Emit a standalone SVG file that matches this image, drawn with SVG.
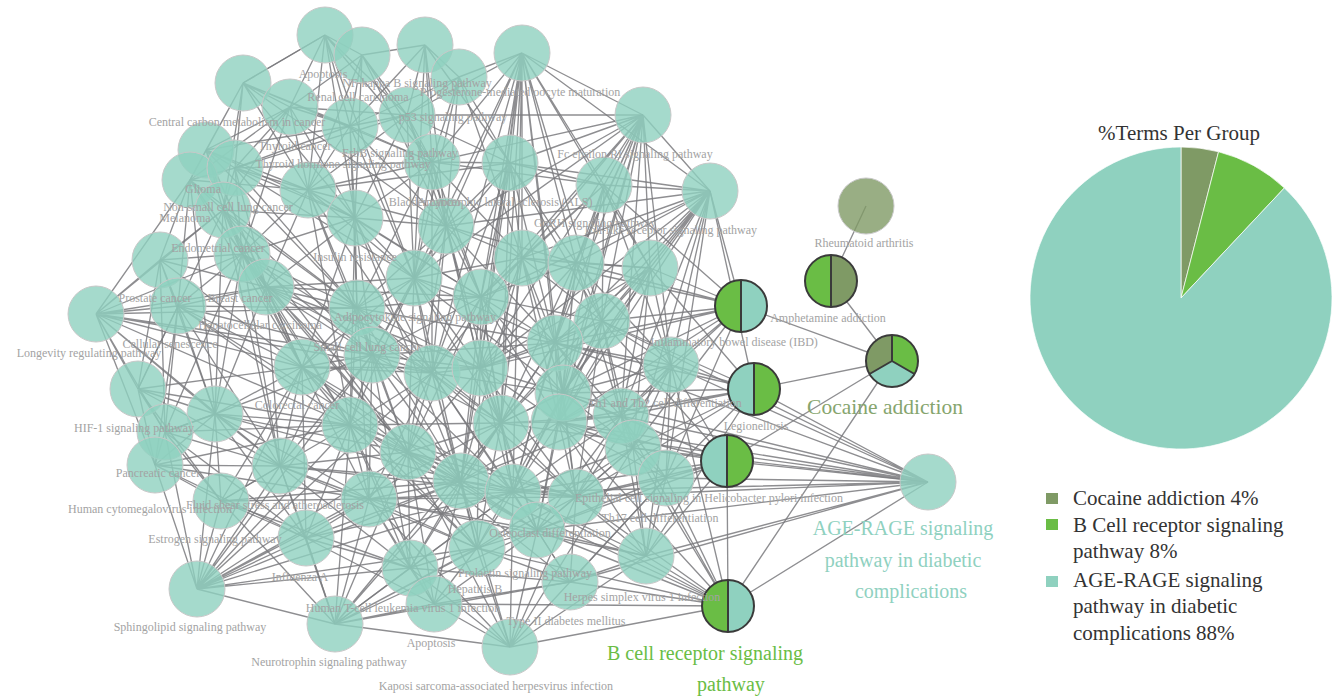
<svg xmlns="http://www.w3.org/2000/svg" width="1338" height="699" viewBox="0 0 1338 699">
<style>
.e{fill:none;stroke:#7a7a7e;stroke-width:1.35;stroke-opacity:0.85}
.n{fill:#8fd1bf;fill-opacity:0.8;stroke:#c8c8c8;stroke-width:1}
.ring{fill:none;stroke:#3a3a3a;stroke-width:2}
.div{stroke:#3a3a3a;stroke-width:2;fill:none}
.lb{font-family:'Liberation Serif',serif;font-size:12px;fill:#a3a3a3;text-anchor:middle}
.gl{font-family:'Liberation Serif',serif;font-size:20px;text-anchor:middle}
.lg{font-family:'Liberation Serif',serif;font-size:21px;fill:#333}
</style>
<rect width="1338" height="699" fill="#ffffff"/>
<g id="connectors">
<path class="e" d="M325 35L290 107M325 35L350 126M325 35L362 55M325 35L407 115M325 35L308 190M325 35L355 218M325 35L243 83M325 35L432 162M325 35L414 278"/>
<path class="e" d="M362 55L350 126M362 55L407 115M362 55L432 162M362 55L290 107M362 55L446 226M362 55L308 190M362 55L425 45M362 55L355 218"/>
<path class="e" d="M425 45L407 115M425 45L459 77M425 45L432 162M425 45L446 226M425 45L510 163M425 45L350 126M425 45L414 278"/>
<path class="e" d="M459 77L407 115M459 77L432 162M459 77L510 163M459 77L446 226M459 77L522 53M459 77L414 278M459 77L522 258M459 77L350 126"/>
<path class="e" d="M522 53L510 163M522 53L604 185M522 53L446 226M522 53L414 278M522 53L522 258M522 53L576 263M522 53L481 297M522 53L602 321M522 53L432 373M522 53L480 368M522 53L555 343M522 53L501 423M522 53L563 393M522 53L461 481M522 53L513 492M522 53L650 268M522 53L407 115M522 53L643 115M522 53L710 191M522 53L432 162"/>
<path class="e" d="M243 83L290 107M243 83L206 150M243 83L235 168M243 83L308 190M243 83L350 126M243 83L355 218M243 83L190 180M243 83L223 210M243 83L325 35M243 83L432 162M243 83L446 226"/>
<path class="e" d="M290 107L350 126M290 107L235 168M290 107L308 190M290 107L206 150M290 107L355 218M290 107L190 180M290 107L407 115M290 107L223 210M290 107L242 254"/>
<path class="e" d="M350 126L407 115M350 126L308 190M350 126L432 162M350 126L355 218M350 126L235 168M350 126L446 226M350 126L414 278M350 126L357 308"/>
<path class="e" d="M407 115L643 115M407 115L432 162M407 115L510 163M407 115L355 218M407 115L446 226M407 115L308 190M407 115L414 278M407 115L481 297"/>
<path class="e" d="M643 115L604 185M643 115L710 191M643 115L510 163M643 115L446 226M643 115L522 258M643 115L576 263M643 115L650 268M643 115L481 297M643 115L602 321M643 115L555 343M643 115L671 365M643 115L563 393M643 115L559 422M643 115L621 416M643 115L432 162M643 115L414 278M643 115L480 368M643 115L501 423"/>
<path class="e" d="M206 150L190 180M206 150L235 168M206 150L223 210M206 150L242 254M206 150L308 190M206 150L355 218M206 150L266 287M206 150L350 126M206 150L357 308M206 150L302 367"/>
<path class="e" d="M190 180L223 210M190 180L242 254M190 180L160 260M190 180L178 306M190 180L235 168M190 180L308 190M190 180L266 287M190 180L215 414M190 180L302 367M190 180L357 308"/>
<path class="e" d="M235 168L308 190M235 168L355 218M235 168L223 210M235 168L242 254M235 168L266 287M235 168L407 115M235 168L432 162M235 168L357 308M235 168L414 278"/>
<path class="e" d="M308 190L355 218M308 190L446 226M308 190L432 162M308 190L414 278M308 190L357 308M308 190L266 287M308 190L242 254M308 190L372 355M308 190L432 373M308 190L510 163M308 190L481 297"/>
<path class="e" d="M432 162L446 226M432 162L510 163M432 162L414 278M432 162L522 258M432 162L481 297M432 162L355 218M432 162L357 308M432 162L432 373M432 162L480 368M432 162L604 185"/>
<path class="e" d="M510 163L446 226M510 163L522 258M510 163L576 263M510 163L481 297M510 163L414 278M510 163L604 185M510 163L602 321M510 163L480 368M510 163L555 343M510 163L432 373M510 163L501 423"/>
<path class="e" d="M604 185L522 258M604 185L576 263M604 185L650 268M604 185L481 297M604 185L602 321M604 185L555 343M604 185L671 365M604 185L563 393"/>
<path class="e" d="M710 191L604 185M710 191L576 263M710 191L650 268M710 191L602 321M710 191L555 343M710 191L671 365M710 191L563 393M710 191L621 416M710 191L633 448M710 191L666 478M710 191L522 258M710 191L481 297M710 191L480 368M710 191L501 423M710 191L510 163M710 191L446 226M710 191L559 422"/>
<path class="e" d="M223 210L242 254M223 210L178 306M223 210L266 287M223 210L215 414M223 210L357 308M223 210L302 367M223 210L160 260M223 210L355 218M223 210L372 355M223 210L280 466"/>
<path class="e" d="M355 218L446 226M355 218L414 278M355 218L357 308M355 218L266 287M355 218L372 355M355 218L432 373M355 218L242 254M355 218L481 297M355 218L302 367M355 218L350 425"/>
<path class="e" d="M446 226L414 278M446 226L522 258M446 226L481 297M446 226L357 308M446 226L432 373M446 226L480 368M446 226L372 355M446 226L576 263M446 226L555 343M446 226L501 423"/>
<path class="e" d="M242 254L178 306M242 254L266 287M242 254L215 414M242 254L302 367M242 254L357 308M242 254L160 260M242 254L280 466M242 254L372 355M242 254L350 425M242 254L165 432"/>
<path class="e" d="M160 260L178 306M160 260L138 389M160 260L215 414M160 260L266 287M160 260L165 432M160 260L302 367"/>
<path class="e" d="M178 306L138 389M178 306L215 414M178 306L266 287M178 306L302 367M178 306L165 432M178 306L155 465M178 306L280 466M178 306L357 308M178 306L372 355"/>
<path class="e" d="M266 287L357 308M266 287L302 367M266 287L372 355M266 287L215 414M266 287L280 466M266 287L350 425M266 287L414 278M266 287L432 373M266 287L481 297M266 287L408 452"/>
<path class="e" d="M414 278L357 308M414 278L481 297M414 278L372 355M414 278L432 373M414 278L480 368M414 278L522 258M414 278L350 425M414 278L408 452M414 278L501 423M414 278L555 343M414 278L302 367"/>
<path class="e" d="M522 258L576 263M522 258L481 297M522 258L602 321M522 258L480 368M522 258L555 343M522 258L501 423M522 258L563 393M522 258L432 373M522 258L559 422M522 258L650 268"/>
<path class="e" d="M576 263L650 268M576 263L602 321M576 263L555 343M576 263L563 393M576 263L559 422M576 263L481 297M576 263L480 368M576 263L621 416M576 263L671 365"/>
<path class="e" d="M650 268L602 321M650 268L671 365M650 268L555 343M650 268L621 416M650 268L563 393M650 268L633 448M650 268L559 422M650 268L480 368"/>
<path class="e" d="M357 308L302 367M357 308L372 355M357 308L432 373M357 308L350 425M357 308L280 466M357 308L481 297M357 308L408 452M357 308L480 368M357 308L501 423M357 308L369 499"/>
<path class="e" d="M481 297L432 373M481 297L480 368M481 297L555 343M481 297L501 423M481 297L563 393M481 297L372 355M481 297L602 321M481 297L461 481M481 297L408 452M481 297L559 422"/>
<path class="e" d="M602 321L555 343M602 321L671 365M602 321L563 393M602 321L559 422M602 321L621 416M602 321L480 368M602 321L501 423M602 321L633 448M602 321L576 497"/>
<path class="e" d="M138 389L215 414M138 389L165 432M138 389L155 465M138 389L302 367M138 389L280 466M138 389L221 501M138 389L350 425M138 389L178 306"/>
<path class="e" d="M215 414L302 367M215 414L165 432M215 414L155 465M215 414L280 466M215 414L350 425M215 414L221 501M215 414L372 355M215 414L369 499M215 414L306 538"/>
<path class="e" d="M302 367L372 355M302 367L280 466M302 367L350 425M302 367L432 373M302 367L408 452M302 367L369 499M302 367L221 501M302 367L306 538M302 367L461 481"/>
<path class="e" d="M372 355L432 373M372 355L350 425M372 355L408 452M372 355L480 368M372 355L501 423M372 355L369 499M372 355L461 481M372 355L280 466M372 355L410 568"/>
<path class="e" d="M432 373L480 368M432 373L408 452M432 373L501 423M432 373L350 425M432 373L461 481M432 373L369 499M432 373L563 393M432 373L513 492M432 373L477 548"/>
<path class="e" d="M480 368L555 343M480 368L501 423M480 368L563 393M480 368L559 422M480 368L461 481M480 368L513 492M480 368L408 452M480 368L576 497M480 368L537 530"/>
<path class="e" d="M555 343L563 393M555 343L559 422M555 343L621 416M555 343L671 365M555 343L501 423M555 343L513 492M555 343L576 497M555 343L633 448"/>
<path class="e" d="M671 365L621 416M671 365L633 448M671 365L563 393M671 365L559 422M671 365L666 478M671 365L576 497M671 365L646 556"/>
<path class="e" d="M165 432L155 465M165 432L280 466M165 432L221 501M165 432L215 414M165 432L350 425M165 432L306 538"/>
<path class="e" d="M155 465L221 501M155 465L280 466M155 465L306 538M155 465L350 425M155 465L369 499"/>
<path class="e" d="M280 466L350 425M280 466L221 501M280 466L369 499M280 466L306 538M280 466L408 452M280 466L410 568M280 466L461 481"/>
<path class="e" d="M350 425L408 452M350 425L369 499M350 425L461 481M350 425L306 538M350 425L410 568M350 425L501 423M350 425L477 548"/>
<path class="e" d="M408 452L501 423M408 452L461 481M408 452L369 499M408 452L410 568M408 452L477 548M408 452L513 492M408 452L537 530M408 452L434 604"/>
<path class="e" d="M501 423L563 393M501 423L559 422M501 423L461 481M501 423L513 492M501 423L576 497M501 423L477 548M501 423L537 530M501 423L621 416"/>
<path class="e" d="M563 393L559 422M563 393L621 416M563 393L513 492M563 393L576 497M563 393L633 448M563 393L537 530"/>
<path class="e" d="M559 422L621 416M559 422L576 497M559 422L633 448M559 422L666 478M559 422L513 492M559 422L537 530M559 422L646 556"/>
<path class="e" d="M621 416L633 448M621 416L666 478M621 416L576 497M621 416L646 556M621 416L537 530"/>
<path class="e" d="M221 501L306 538M221 501L369 499M221 501L410 568M221 501L280 466"/>
<path class="e" d="M369 499L461 481M369 499L306 538M369 499L410 568M369 499L477 548M369 499L434 604M369 499L513 492"/>
<path class="e" d="M461 481L513 492M461 481L477 548M461 481L410 568M461 481L537 530M461 481L434 604M461 481L576 497"/>
<path class="e" d="M513 492L576 497M513 492L477 548M513 492L537 530M513 492L570 582M513 492L633 448M513 492L646 556"/>
<path class="e" d="M576 497L633 448M576 497L666 478M576 497L537 530M576 497L646 556M576 497L570 582"/>
<path class="e" d="M633 448L666 478M633 448L646 556M633 448L537 530M666 478L646 556M666 478L537 530M666 478L570 582"/>
<path class="e" d="M306 538L410 568M306 538L335 624M306 538L434 604M410 568L477 548M410 568L335 624M410 568L434 604M410 568L570 582"/>
<path class="e" d="M477 548L537 530M477 548L434 604M477 548L570 582M477 548L510 647M537 530L570 582M537 530L646 556M537 530L434 604M646 556L570 582M570 582L434 604"/>
<path class="e" d="M372 355L513 492M432 373L576 497M350 425L537 530M302 367L477 548M408 452L576 497M461 481L621 416M369 499L537 530M280 466L477 548M357 308L461 481M414 278L461 481M481 297L513 492M522 258L461 481M555 343L461 481M602 321L513 492M576 263L513 492M266 287L461 481M242 254L408 452M215 414L408 452M178 306L350 425M302 367L513 492M350 425L576 497M432 373L537 530M480 368L477 548M501 423L410 568M563 393L477 548M559 422L461 481M621 416L513 492M633 448L477 548M372 355L555 343M302 367L480 368M266 287L480 368M357 308L555 343M414 278L563 393M446 226L408 452M355 218L461 481M308 190L350 425M223 210L408 452M242 254L432 373M178 306L408 452M215 414L461 481M280 466L513 492M369 499L576 497M408 452L570 582M350 425L434 604M221 501L461 481M306 538L461 481M306 538L513 492M410 568L513 492M369 499L646 556"/>
<path class="e" d="M96 314L160 260M96 314L178 306M96 314L138 389M96 314L242 254M96 314L266 287M96 314L215 414M96 314L302 367M96 314L357 308M96 314L165 432M96 314L155 465M96 314L190 180M96 314L223 210M96 314L372 355M96 314L432 373M96 314L350 425M96 314L280 466"/>
<path class="e" d="M197 589L221 501M197 589L306 538M197 589L280 466M197 589L369 499M197 589L155 465M197 589L350 425M197 589L408 452M197 589L461 481M197 589L410 568M197 589L477 548M197 589L165 432M197 589L215 414M197 589L302 367M197 589L335 624M197 589L432 373M197 589L501 423M197 589L513 492M197 589L372 355"/>
<path class="e" d="M335 624L306 538M335 624L410 568M335 624L369 499M335 624L408 452M335 624L461 481M335 624L477 548M335 624L537 530M335 624L434 604M335 624L513 492M335 624L576 497M335 624L280 466M335 624L510 647M335 624L221 501M335 624L501 423M335 624L570 582M335 624L350 425"/>
<path class="e" d="M510 647L410 568M510 647L537 530M510 647L570 582M510 647L434 604M510 647L646 556M510 647L461 481M510 647L513 492M510 647L576 497M510 647L666 478M510 647L408 452M510 647L369 499M510 647L633 448M510 647L728 606"/>
<path class="e" d="M741 306L710 191M741 306L650 268M741 306L602 321M741 306L671 365M741 306L555 343M741 306L576 263M741 306L621 416M741 306L633 448M741 306L666 478M741 306L563 393M741 306L604 185M741 306L522 258M741 306L480 368M741 306L559 422M741 306L892 361M741 306L501 423"/>
<path class="e" d="M754 389L671 365M754 389L621 416M754 389L633 448M754 389L666 478M754 389L602 321M754 389L650 268M754 389L559 422M754 389L563 393M754 389L646 556M754 389L892 361M754 389L555 343M754 389L710 191M754 389L576 497"/>
<path class="e" d="M727 461L666 478M727 461L633 448M727 461L621 416M727 461L646 556M727 461L671 365M727 461L576 497M727 461L559 422M727 461L537 530M727 461L928 482M727 461L892 361M727 461L513 492M727 461L728 606M727 461L563 393M727 461L602 321"/>
<path class="e" d="M728 606L646 556M728 606L666 478M728 606L633 448M728 606L570 582M728 606L576 497M728 606L537 530M728 606L513 492M728 606L477 548M728 606L621 416M728 606L671 365M728 606L559 422M728 606L928 482M728 606L892 361M728 606L434 604M728 606L461 481"/>
<path class="e" d="M928 482L666 478M928 482L633 448M928 482L646 556M928 482L621 416M928 482L671 365M928 482L576 497M928 482L559 422M928 482L537 530M928 482L513 492M928 482L563 393M928 482L602 321M928 482L754 389M928 482L570 582M928 482L501 423M928 482L555 343"/>
<path class="e" d="M892 361L831 281M831 281L866 206"/>
</g>
<g id="nodes">
<g id="node-1"><circle class="n" cx="325" cy="35" r="28"/></g>
<g id="node-2"><circle class="n" cx="362" cy="55" r="28"/></g>
<g id="node-3"><circle class="n" cx="425" cy="45" r="28"/></g>
<g id="node-4"><circle class="n" cx="459" cy="77" r="28"/></g>
<g id="node-5"><circle class="n" cx="522" cy="53" r="28"/></g>
<g id="node-6"><circle class="n" cx="243" cy="83" r="28"/></g>
<g id="node-7"><circle class="n" cx="290" cy="107" r="28"/></g>
<g id="node-8"><circle class="n" cx="350" cy="126" r="28"/></g>
<g id="node-9"><circle class="n" cx="407" cy="115" r="28"/></g>
<g id="node-10"><circle class="n" cx="643" cy="115" r="28"/></g>
<g id="node-11"><circle class="n" cx="206" cy="150" r="28"/></g>
<g id="node-12"><circle class="n" cx="190" cy="180" r="28"/></g>
<g id="node-13"><circle class="n" cx="235" cy="168" r="28"/></g>
<g id="node-14"><circle class="n" cx="308" cy="190" r="28"/></g>
<g id="node-15"><circle class="n" cx="432" cy="162" r="28"/></g>
<g id="node-16"><circle class="n" cx="510" cy="163" r="28"/></g>
<g id="node-17"><circle class="n" cx="604" cy="185" r="28"/></g>
<g id="node-18"><circle class="n" cx="710" cy="191" r="28"/></g>
<g id="node-19"><circle class="n" cx="223" cy="210" r="28"/></g>
<g id="node-20"><circle class="n" cx="355" cy="218" r="28"/></g>
<g id="node-21"><circle class="n" cx="446" cy="226" r="28"/></g>
<g id="node-22"><circle class="n" cx="242" cy="254" r="28"/></g>
<g id="node-23"><circle class="n" cx="160" cy="260" r="28"/></g>
<g id="node-24"><circle class="n" cx="96" cy="314" r="28"/></g>
<g id="node-25"><circle class="n" cx="178" cy="306" r="28"/></g>
<g id="node-26"><circle class="n" cx="266" cy="287" r="28"/></g>
<g id="node-27"><circle class="n" cx="414" cy="278" r="28"/></g>
<g id="node-28"><circle class="n" cx="522" cy="258" r="28"/></g>
<g id="node-29"><circle class="n" cx="576" cy="263" r="28"/></g>
<g id="node-30"><circle class="n" cx="650" cy="268" r="28"/></g>
<g id="node-31"><circle class="n" cx="357" cy="308" r="28"/></g>
<g id="node-32"><circle class="n" cx="481" cy="297" r="28"/></g>
<g id="node-33"><circle class="n" cx="602" cy="321" r="28"/></g>
<g id="node-34"><circle class="n" cx="138" cy="389" r="28"/></g>
<g id="node-35"><circle class="n" cx="215" cy="414" r="28"/></g>
<g id="node-36"><circle class="n" cx="302" cy="367" r="28"/></g>
<g id="node-37"><circle class="n" cx="372" cy="355" r="28"/></g>
<g id="node-38"><circle class="n" cx="432" cy="373" r="28"/></g>
<g id="node-39"><circle class="n" cx="480" cy="368" r="28"/></g>
<g id="node-40"><circle class="n" cx="555" cy="343" r="28"/></g>
<g id="node-41"><circle class="n" cx="671" cy="365" r="28"/></g>
<g id="node-42"><circle class="n" cx="165" cy="432" r="28"/></g>
<g id="node-43"><circle class="n" cx="155" cy="465" r="28"/></g>
<g id="node-44"><circle class="n" cx="280" cy="466" r="28"/></g>
<g id="node-45"><circle class="n" cx="350" cy="425" r="28"/></g>
<g id="node-46"><circle class="n" cx="408" cy="452" r="28"/></g>
<g id="node-47"><circle class="n" cx="501" cy="423" r="28"/></g>
<g id="node-48"><circle class="n" cx="563" cy="393" r="28"/></g>
<g id="node-49"><circle class="n" cx="559" cy="422" r="28"/></g>
<g id="node-50"><circle class="n" cx="621" cy="416" r="28"/></g>
<g id="node-51"><circle class="n" cx="221" cy="501" r="28"/></g>
<g id="node-52"><circle class="n" cx="369" cy="499" r="28"/></g>
<g id="node-53"><circle class="n" cx="461" cy="481" r="28"/></g>
<g id="node-54"><circle class="n" cx="513" cy="492" r="28"/></g>
<g id="node-55"><circle class="n" cx="576" cy="497" r="28"/></g>
<g id="node-56"><circle class="n" cx="633" cy="448" r="28"/></g>
<g id="node-57"><circle class="n" cx="666" cy="478" r="28"/></g>
<g id="node-58"><circle class="n" cx="306" cy="538" r="28"/></g>
<g id="node-59"><circle class="n" cx="410" cy="568" r="28"/></g>
<g id="node-60"><circle class="n" cx="477" cy="548" r="28"/></g>
<g id="node-61"><circle class="n" cx="537" cy="530" r="28"/></g>
<g id="node-62"><circle class="n" cx="646" cy="556" r="28"/></g>
<g id="node-63"><circle class="n" cx="570" cy="582" r="28"/></g>
<g id="node-64"><circle class="n" cx="197" cy="589" r="28"/></g>
<g id="node-65"><circle class="n" cx="335" cy="624" r="28"/></g>
<g id="node-66"><circle class="n" cx="434" cy="604" r="28"/></g>
<g id="node-67"><circle class="n" cx="510" cy="647" r="28"/></g>
<g id="node-rheumatoid"><circle cx="866" cy="206" r="28" fill="#7f9a65" fill-opacity="0.8" stroke="#c8c8c8" stroke-width="1"/></g>
<g id="node-agerage"><circle class="n" cx="928" cy="482" r="28"/></g>
<g id="node-amphetamine"><circle cx="831" cy="281" r="26" fill="#7f9a65"/><path d="M831 255A26 26 0 0 0 831 307Z" fill="#6abd45"/><path class="div" d="M831 255L831 307"/><circle class="ring" cx="831" cy="281" r="26"/></g>
<g id="node-ibd"><circle cx="741" cy="306" r="26" fill="#8fd1bf"/><path d="M741 280A26 26 0 0 0 741 332Z" fill="#6abd45"/><path class="div" d="M741 280L741 332"/><circle class="ring" cx="741" cy="306" r="26"/></g>
<g id="node-legionellosis"><circle cx="754" cy="389" r="26" fill="#6abd45"/><path d="M754 363A26 26 0 0 0 754 415Z" fill="#8fd1bf"/><path class="div" d="M754 363L754 415"/><circle class="ring" cx="754" cy="389" r="26"/></g>
<g id="node-helicobacter"><circle cx="727" cy="461" r="26" fill="#6abd45"/><path d="M727 435A26 26 0 0 0 727 487Z" fill="#8fd1bf"/><path class="div" d="M727 435L727 487"/><circle class="ring" cx="727" cy="461" r="26"/></g>
<g id="node-bcell"><circle cx="728" cy="606" r="26" fill="#8fd1bf"/><path d="M728 580A26 26 0 0 0 728 632Z" fill="#6abd45"/><path class="div" d="M728 580L728 632"/><circle class="ring" cx="728" cy="606" r="26"/></g>
<g id="node-cocaine"><path d="M892 361L892 335A26 26 0 0 1 914.5 374Z" fill="#6abd45"/><path d="M892 361L914.5 374A26 26 0 0 1 869.5 374Z" fill="#8fd1bf"/><path d="M892 361L869.5 374A26 26 0 0 1 892 335Z" fill="#7f9a65"/><path class="div" d="M892 335L892 361L914.5 374M892 361L869.5 374"/><circle class="ring" cx="892" cy="361" r="26"/></g>
</g>
<g id="labels" font-family="Liberation Serif, serif">
<text class="lb" x="323" y="78">Apoptosis</text>
<text class="lb" x="417" y="87">NF-kappa B signaling pathway</text>
<text class="lb" x="358" y="101">Renal cell carcinoma</text>
<text class="lb" x="520" y="96">Progesterone-mediated oocyte maturation</text>
<text class="lb" x="453" y="121">p53 signaling pathway</text>
<text class="lb" x="237" y="126">Central carbon metabolism in cancer</text>
<text class="lb" x="295" y="150">Thyroid cancer</text>
<text class="lb" x="400" y="157">ErbB signaling pathway</text>
<text class="lb" x="343" y="168">Thyroid hormone signaling pathway</text>
<text class="lb" x="635" y="158">Fc epsilon RI signaling pathway</text>
<text class="lb" x="203" y="193">Glioma</text>
<text class="lb" x="425" y="206">Bladder cancer</text>
<text class="lb" x="505" y="206">Amyotrophic lateral sclerosis (ALS)</text>
<text class="lb" x="228" y="211">Non-small cell lung cancer</text>
<text class="lb" x="185" y="222">Melanoma</text>
<text class="lb" x="595" y="227">GnRH signaling pathway</text>
<text class="lb" x="670" y="234">Toll-like receptor signaling pathway</text>
<text class="lb" x="864" y="247">Rheumatoid arthritis</text>
<text class="lb" x="218" y="252">Endometrial cancer</text>
<text class="lb" x="355" y="261">Insulin resistance</text>
<text class="lb" x="155" y="302">Prostate cancer</text>
<text class="lb" x="240" y="302">Breast cancer</text>
<text class="lb" x="415" y="321">Adipocytokine signaling pathway</text>
<text class="lb" x="828" y="322">Amphetamine addiction</text>
<text class="lb" x="260" y="329">Hepatocellular carcinoma</text>
<text class="lb" x="734" y="346">Inflammatory bowel disease (IBD)</text>
<text class="lb" x="170" y="348">Cellular senescence</text>
<text class="lb" x="367" y="351">Small cell lung cancer</text>
<text class="lb" x="89" y="357">Longevity regulating pathway</text>
<text class="lb" x="665" y="407">Th1 and Th2 cell differentiation</text>
<text class="lb" x="297" y="409">Colorectal cancer</text>
<text class="lb" x="756" y="430">Legionellosis</text>
<text class="lb" x="134" y="432">HIF-1 signaling pathway</text>
<text class="lb" x="158" y="477">Pancreatic cancer</text>
<text class="lb" x="709" y="502">Epithelial cell signaling in Helicobacter pylori infection</text>
<text class="lb" x="275" y="509">Fluid shear stress and atherosclerosis</text>
<text class="lb" x="150" y="513">Human cytomegalovirus infection</text>
<text class="lb" x="660" y="522">Th17 cell differentiation</text>
<text class="lb" x="550" y="537">Osteoclast differentiation</text>
<text class="lb" x="215" y="543">Estrogen signaling pathway</text>
<text class="lb" x="525" y="577">Prolactin signaling pathway</text>
<text class="lb" x="300" y="581">Influenza A</text>
<text class="lb" x="475" y="593">Hepatitis B</text>
<text class="lb" x="642" y="601">Herpes simplex virus 1 infection</text>
<text class="lb" x="403" y="612">Human T-cell leukemia virus 1 infection</text>
<text class="lb" x="566" y="625">Type II diabetes mellitus</text>
<text class="lb" x="190" y="631">Sphingolipid signaling pathway</text>
<text class="lb" x="431" y="647">Apoptosis</text>
<text class="lb" x="329" y="666">Neurotrophin signaling pathway</text>
<text class="lb" x="496" y="690">Kaposi sarcoma-associated herpesvirus infection</text>
<text class="gl" x="885" y="414" fill="#86a56e" style="font-size:21.5px">Cocaine addiction</text>
<text class="gl" x="903" y="535" fill="#8fd1bf">AGE-RAGE signaling</text>
<text class="gl" x="903" y="567" fill="#8fd1bf">pathway in diabetic</text>
<text class="gl" x="911" y="598" fill="#8fd1bf">complications</text>
<text class="gl" x="705" y="660" fill="#6abd45">B cell receptor signaling</text>
<text class="gl" x="731" y="691" fill="#6abd45">pathway</text>
</g>
<g id="pie-chart" font-family="Liberation Serif, serif">
<text class="lg" x="1179" y="140" text-anchor="middle">%Terms Per Group</text>
<path d="M1181 298L1181 147A151 151 0 0 1 1218.55 151.74Z" fill="#7f9a65" stroke="#ffffff" stroke-width="0.7"/>
<path d="M1181 298L1218.55 151.74A151 151 0 0 1 1284.36 187.92Z" fill="#6abd45" stroke="#ffffff" stroke-width="0.7"/>
<path d="M1181 298L1284.36 187.92A151 151 0 1 1 1181 147Z" fill="#8fd1bf" stroke="#ffffff" stroke-width="0.7"/>
</g>
<g id="legend" font-family="Liberation Serif, serif">
<rect x="1046" y="493" width="12" height="11" fill="#7f9a65"/>
<text class="lg" x="1073" y="505">Cocaine addiction 4%</text>
<rect x="1046" y="519" width="12" height="11" fill="#6abd45"/>
<text class="lg" x="1073" y="532">B Cell receptor signaling</text>
<text class="lg" x="1073" y="558">pathway 8%</text>
<rect x="1046" y="576" width="12" height="11" fill="#8fd1bf"/>
<text class="lg" x="1073" y="587">AGE-RAGE signaling</text>
<text class="lg" x="1073" y="613">pathway in diabetic</text>
<text class="lg" x="1073" y="640">complications 88%</text>
</g>
</svg>
